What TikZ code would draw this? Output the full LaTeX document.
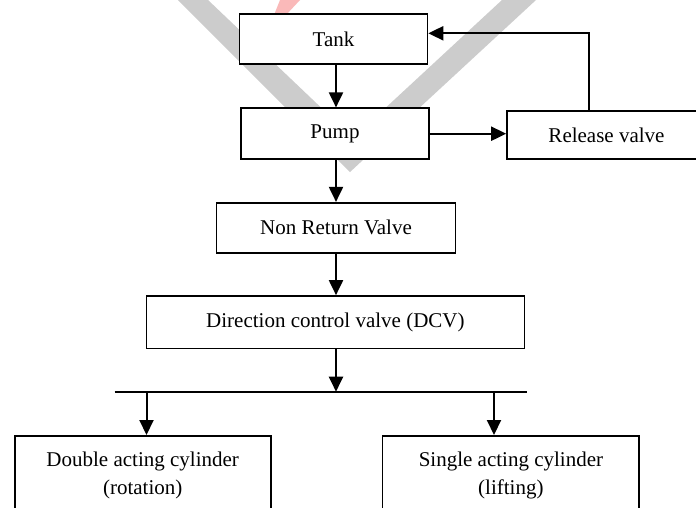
\documentclass[tikz,border=0pt]{standalone}
\usepackage{fontspec}
\setmainfont{Liberation Serif}
\usetikzlibrary{arrows.meta}
\definecolor{wmgray}{RGB}{204,204,204}
\definecolor{wmred}{RGB}{250,185,185}
\tikzset{
  blk/.style={draw=black, line width=1.6pt, fill=white, rectangle, inner sep=0pt,
    font=\fontsize{21}{28.5}\selectfont, align=center},
  arr/.style={line width=2pt, -{Triangle[length=15pt,width=14pt]}},
  bar/.style={line width=2pt}
}
\begin{document}
\begin{tikzpicture}[x=1pt,y=-1pt]
\clip (0,0) rectangle (696,507);
\fill[white] (0,0) rectangle (696,507);
% watermark
\fill[wmgray] (178,0) -- (208,0) -- (353,138) -- (502,0) -- (536,0) -- (350,172) -- cycle;
\fill[wmred] (280,0) -- (300,0) -- (286,15) -- (274,15) -- cycle;
% nodes
\node[blk, minimum width=188pt, minimum height=50pt] (tank) at (333.5,39) {Tank};
\node[blk, minimum width=188pt, minimum height=51pt] (pump) at (335,133.7) {Pump};
\node[blk, minimum width=199pt, minimum height=48pt] (rel) at (606.5,135) {Release valve};
\node[blk, minimum width=239pt, minimum height=50pt] (nrv) at (336,227.7) {Non Return Valve};
\node[blk, minimum width=378pt, minimum height=52.7pt] (dcv) at (335.4,322.3) {Direction control valve (DCV)};
\node[blk, minimum width=256pt, inner ysep=15.7pt, anchor=north] (dac) at (142.7,435) {Double acting cylinder\\(rotation)};
\node[blk, minimum width=256.6pt, inner ysep=15.7pt, anchor=north] (sac) at (510.9,435) {Single acting cylinder\\(lifting)};
% helper coordinates
\coordinate (spine) at (336,0);
\coordinate (fb) at (589.4,33.3);
\coordinate (busL) at (114.5,391.7);
\coordinate (busR) at (526.9,391.7);
\coordinate (dropL) at (146.5,391.7);
\coordinate (dropR) at (494,391.7);
% connectors
\draw[arr] (tank.south -| spine) -- (pump.north -| spine);
\draw[arr] (pump.east) -- (rel.west |- pump.east);
\draw[arr] (rel.north -| fb) |- (tank.east |- fb);
\draw[arr] (pump.south -| spine) -- (nrv.north -| spine);
\draw[arr] (nrv.south -| spine) -- (dcv.north -| spine);
\draw[arr] (dcv.south -| spine) -- (busL -| spine);
\draw[bar] (busL) -- (busR);
\draw[arr] (dropL) -- (dac.north -| dropL);
\draw[arr] (dropR) -- (sac.north -| dropR);
\end{tikzpicture}
\end{document}
